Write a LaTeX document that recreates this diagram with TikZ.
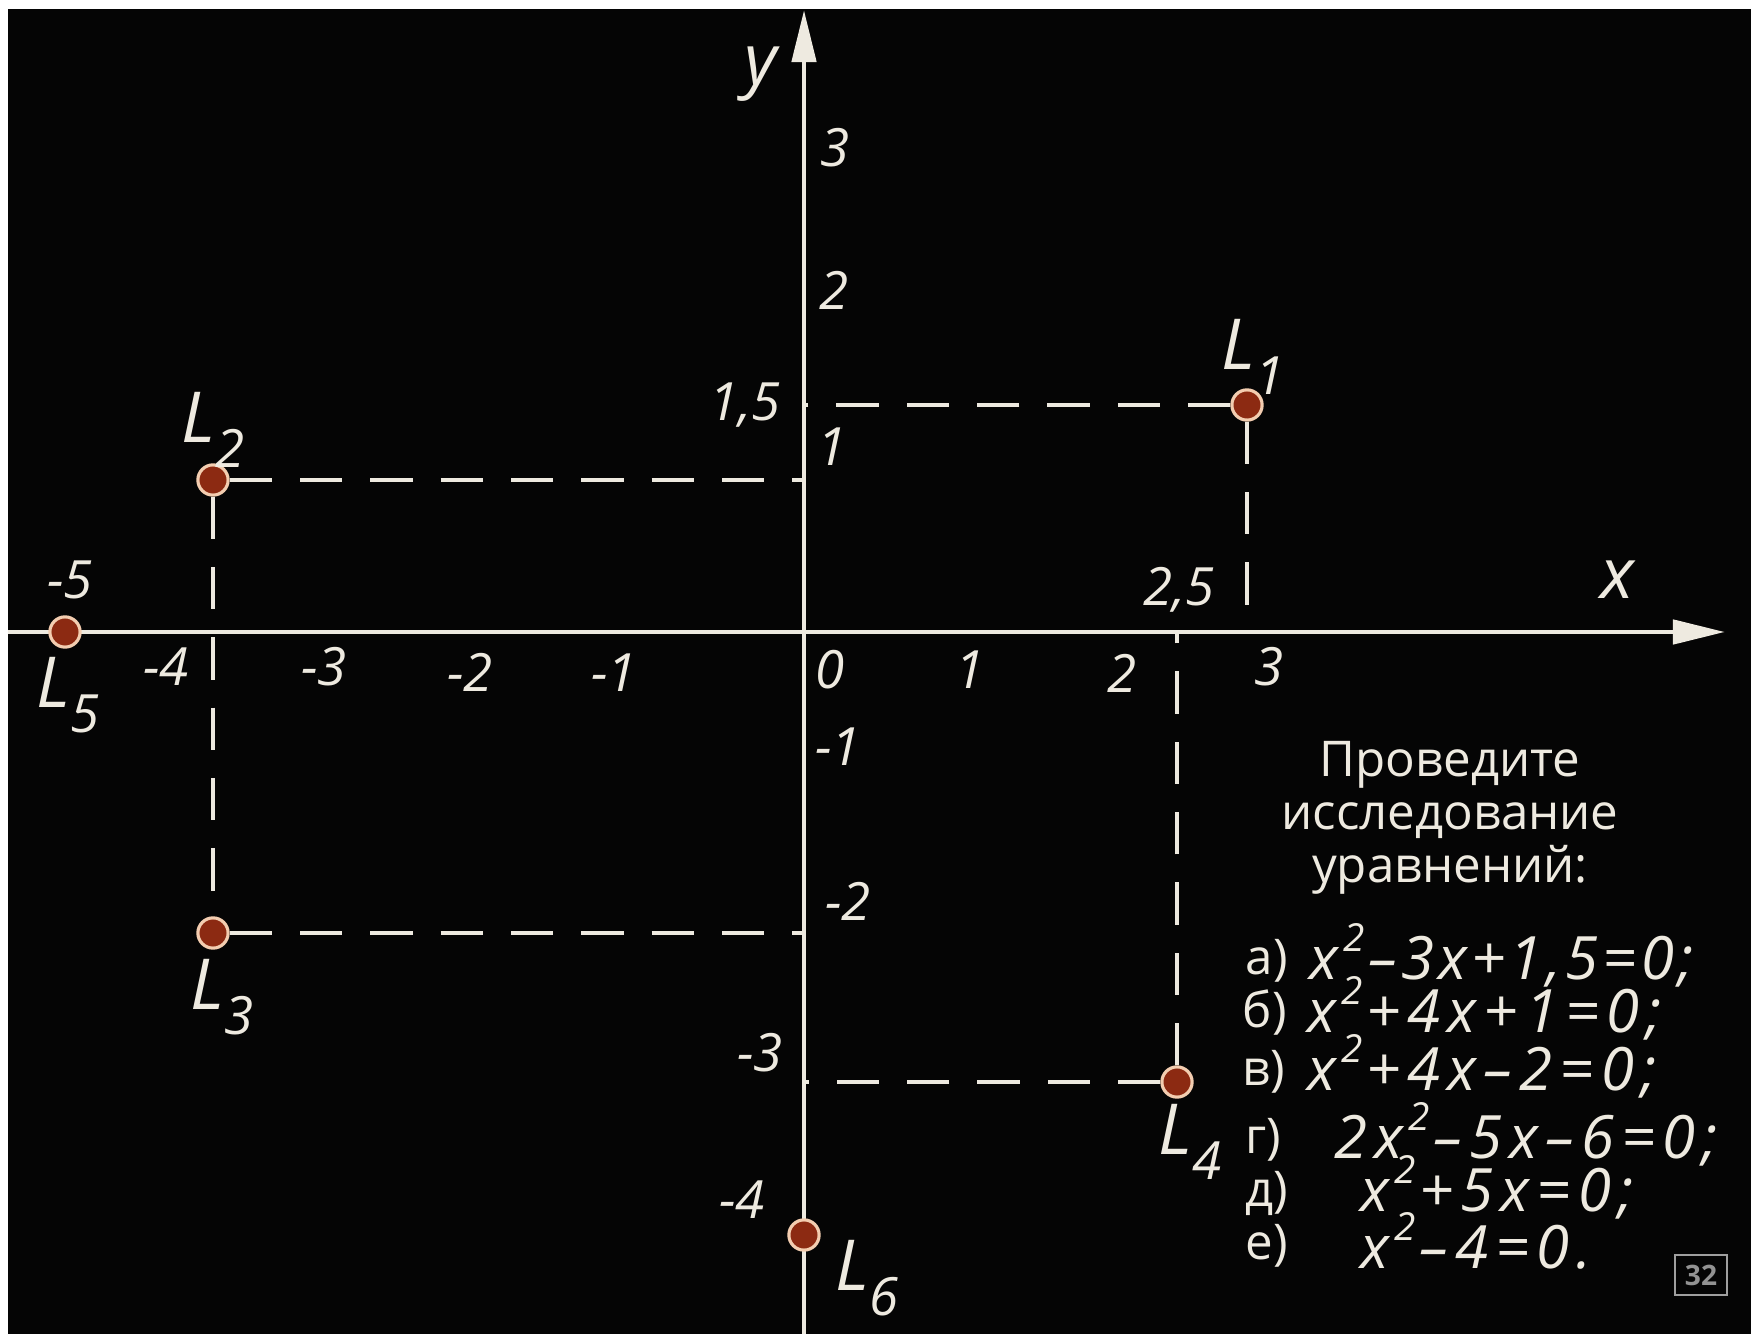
\documentclass[tikz,border=0pt]{standalone}
\usepackage{fontspec}
\setmainfont{Open Sans}
\usetikzlibrary{arrows.meta}
\definecolor{chalk}{HTML}{EEEAE0}
\definecolor{pfill}{HTML}{8C2A12}
\definecolor{pedge}{HTML}{F3CDB0}
\definecolor{board}{HTML}{050505}
\newcommand{\Lsub}[1]{L\raisebox{-7pt}{\fontsize{15}{15}\selectfont #1}}
\newcommand{\sq}{\kern1.5pt\smash{\raisebox{8pt}{\fontsize{11}{11}\selectfont 2}}\kern1pt}
\begin{document}
\begin{tikzpicture}[x=0.01cm,y=-0.01cm,
  axisline/.style={draw=chalk,line width=1.4pt},
  guide/.style={draw=chalk,line width=1.4pt,dash pattern=on 12pt off 8pt},
  dotpt/.style={circle,fill=pfill,draw=pedge,line width=0.9pt,minimum size=8.6pt,inner sep=0pt},
  num/.style={text=chalk,font=\fontsize{15}{15}\selectfont\itshape,inner sep=0pt},
  lbl/.style={text=chalk,font=\fontsize{20}{20}\selectfont\itshape,inner sep=0pt},
  head/.style={text=chalk,font=\fontsize{14}{15}\selectfont,inner sep=0pt,align=center},
  eqn/.style={text=chalk,font=\fontsize{17}{17}\selectfont\itshape\addfontfeature{LetterSpace=7},inner sep=0pt,anchor=west},
  eqnw/.style={eqn,font=\fontsize{17}{17}\selectfont\itshape\addfontfeature{LetterSpace=12}},
  item/.style={text=chalk,font=\fontsize{14}{14}\selectfont,inner sep=0pt,anchor=west,text height=10pt,text depth=2pt},
  tip/.style={-{Triangle[length=14.8pt,width=6.8pt]}}
]
\fill[white] (0,0) rectangle (1751,1334);
\fill[board] (8,9) rectangle (1751,1334);
\useasboundingbox (0,0) rectangle (1751,1334);

% axes
\coordinate (xs) at (8,632);
\coordinate (xe) at (1725,632);
\coordinate (ys) at (804,1334);
\coordinate (ye) at (804,10);
\draw[axisline,tip] (xs) -- (xe);
\draw[axisline,tip] (ys) -- (ye);

% points
\node[dotpt] (L1) at (1247,405) {};
\node[dotpt] (L2) at (213,480) {};
\node[dotpt] (L3) at (213,933) {};
\node[dotpt] (L4) at (1177,1082) {};
\node[dotpt] (L5) at (65,632) {};
\node[dotpt] (L6) at (804,1235) {};

% guide end points
\coordinate (a1) at (804,405);
\coordinate (b1) at (1247,632);
\coordinate (a2) at (804,480);
\coordinate (a3) at (804,933);
\coordinate (a4) at (804,1082);
\coordinate (b4) at (1177,632);

\draw[guide] (L1) -- (a1);
\draw[guide] (L1) -- (b1);
\draw[guide] (L2) -- (a2);
\draw[guide] (L2) -- (L3);
\draw[guide] (L3) -- (a3);
\draw[guide] (L4) -- (a4);
\draw[guide] (L4) -- (b4);

% axis names
\node[lbl] (ny) at (761,74) {y};
\node[lbl] (nx) at (1617,580) {x};

% y ticks
\node[num] (ty3) at (835,148) {3};
\node[num] (ty2) at (834,290) {2};
\node[num] (ty15) at (745,405) {1,5};
\node[num] (ty1) at (832,447) {1};
\node[num] (tym1) at (838,747) {-1};
\node[num] (tym2) at (848,901) {-2};
\node[num] (tym3) at (760,1053) {-3};
\node[num] (tym4) at (742,1200) {-4};

% x ticks
\node[num] (tx5) at (70,580) {-5};
\node[num] (tx4) at (166,667) {-4};
\node[num] (tx3) at (324,667) {-3};
\node[num] (tx2) at (470,672) {-2};
\node[num] (tx1) at (614,673) {-1};
\node[num] (tx0) at (830,670) {0};
\node[num] (tp1) at (970,670) {1};
\node[num] (tp2) at (1122,673) {2};
\node[num] (tp25) at (1179,590) {2,5};
\node[num] (tp3) at (1269,667) {3};

% point names
\node[lbl] (nL1) at (1253,357) {\Lsub{1}};
\node[lbl] (nL2) at (213,430) {\Lsub{2}};
\node[lbl] (nL3) at (222,997) {\Lsub{3}};
\node[lbl] (nL4) at (1190,1142) {\Lsub{4}};
\node[lbl] (nL5) at (68,695) {\Lsub{5}};
\node[lbl] (nL6) at (867,1278) {\Lsub{6}};

% task text
\node[head] (task) at (1450,818) {Проведите\\исследование\\уравнений:};

\node[item] (ia) at (1245,960) {а)};
\node[eqn] (ea) at (1309,962) {x\sq–3x+1,5=0;};
\node[item] (ib) at (1242,1013) {б)};
\node[eqnw] (eb) at (1307,1015) {x\sq+4x+1=0;};
\node[item] (ic) at (1242,1071) {в)};
\node[eqnw] (ec) at (1307,1073) {x\sq+4x–2=0;};
\node[item] (id) at (1245,1139) {г)};
\node[eqnw] (ed) at (1334,1141) {2x\sq–5x–6=0;};
\node[item] (ie) at (1245,1192) {д)};
\node[eqnw] (ee) at (1360,1194) {x\sq+5x=0;};
\node[item] (if) at (1245,1245) {е)};
\node[eqnw] (ef) at (1360,1247) {x\sq–4=0.};

\node[draw=gray!75,text=gray!85,line width=0.6pt,font=\fontsize{8}{8}\selectfont\bfseries,minimum width=14.8pt,minimum height=11.4pt,inner sep=0pt] (pg) at (1701,1275) {32};
\end{tikzpicture}
\end{document}
